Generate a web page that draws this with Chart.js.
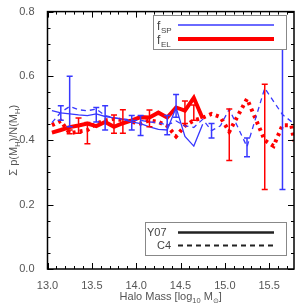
<!DOCTYPE html>
<html>
<head>
<meta charset="utf-8">
<script src="https://cdn.jsdelivr.net/npm/chart.js@4.4.1/dist/chart.umd.min.js"></script>
<style>
  body { margin: 0; background: #fff; }
  #wrap { width: 306px; height: 306px; }
</style>
</head>
<body>
<div id="wrap"><canvas id="grafico"></canvas></div>
<script>
// Y07 bins (log10 halo mass) and fractions
const massY07 = [13.05, 13.15, 13.25, 13.35, 13.45, 13.55, 13.65, 13.75, 13.85, 13.95,
                 14.05, 14.15, 14.25, 14.35, 14.45, 14.55, 14.65, 14.75];
const spY07 = [0.492, 0.485, 0.482, 0.479, 0.477, 0.482, 0.474, 0.470, 0.465, 0.457,
               0.452, 0.442, 0.434, 0.432, 0.502, 0.412, 0.382, 0.450];
const elY07 = [0.424, 0.432, 0.441, 0.446, 0.452, 0.444, 0.457, 0.442, 0.453, 0.462,
               0.472, 0.471, 0.486, 0.471, 0.502, 0.492, 0.532, 0.468];

// C4 curves
const massSpC4 = [13.05, 13.15, 13.25, 13.35, 13.45, 13.55, 13.65, 13.75, 13.85, 13.95,
                  14.05, 14.15, 14.25, 14.35, 14.45, 14.55, 14.65, 14.75, 14.85, 14.95,
                  15.05, 15.25, 15.45, 15.65, 15.78];
const spC4 = [0.455, 0.487, 0.505, 0.495, 0.492, 0.497, 0.477, 0.470, 0.467, 0.462,
              0.462, 0.457, 0.455, 0.447, 0.460, 0.445, 0.440, 0.465, 0.430, 0.445,
              0.497, 0.380, 0.562, 0.480, 0.452];
const massElC4 = [13.05, 13.15, 13.25, 13.35, 13.45, 13.55, 13.65, 13.75, 13.85, 13.95,
                  14.05, 14.15, 14.25, 14.35, 14.45, 14.55, 14.65, 14.75, 14.85, 14.95,
                  15.05, 15.25, 15.45, 15.55, 15.65, 15.75, 15.78];
const elC4 = [0.447, 0.460, 0.422, 0.427, 0.432, 0.452, 0.462, 0.467, 0.462, 0.457,
              0.452, 0.462, 0.457, 0.445, 0.412, 0.445, 0.462, 0.470, 0.482, 0.472,
              0.427, 0.529, 0.400, 0.382, 0.447, 0.447, 0.397];

// error bars
const errSpMass = [13.15, 13.25, 13.55, 13.65, 13.95, 14.05, 14.35, 14.45, 14.85, 15.25, 15.65];
const errSpLo   = [0.462, 0.442, 0.457, 0.432, 0.432, 0.415, 0.417, 0.472, 0.407, 0.349, 0.247];
const errSpHi   = [0.507, 0.599, 0.502, 0.507, 0.477, 0.477, 0.477, 0.542, 0.452, 0.407, 0.720];
const errElMass = [13.25, 13.35, 13.45, 13.75, 13.85, 14.15, 14.55, 14.65, 15.05, 15.45];
const errElLo   = [0.420, 0.422, 0.389, 0.422, 0.422, 0.442, 0.452, 0.462, 0.337, 0.247];
const errElHi   = [0.432, 0.469, 0.455, 0.479, 0.495, 0.494, 0.522, 0.510, 0.497, 0.574];

const xTickValues = [13.0, 13.5, 14.0, 14.5, 15.0, 15.5];
const yTickValues = [0.0, 0.2, 0.4, 0.6, 0.8];

const AZUL = '#3838ff';
const VERMELHO = '#ff0000';
const FONTE = '"Liberation Sans", Arial, sans-serif';

const pares = (xs, ys) => xs.map((x, i) => ({ x: x, y: ys[i] }));
const barras = (xs, lo, hi) => xs.flatMap((x, i) => [{ x: x, y: lo[i] }, { x: x, y: hi[i] }, { x: x, y: null }]);

function linha(data, cor, largura, dash) {
  return { data: data, borderColor: cor, borderWidth: largura, borderDash: dash || [],
           pointRadius: 0, fill: false, tension: 0 };
}
function erros(data, cor) {
  return { data: data, borderColor: cor, borderWidth: 1.5, spanGaps: false, fill: false,
           pointStyle: 'line', pointRadius: 3, pointBorderColor: cor, pointBorderWidth: 1.5,
           pointBackgroundColor: cor };
}

// draws text with subscripts, parts = [[text, isSub], ...]
function textoRico(ctx, partes, x, y, tam) {
  const sub = tam * 0.68;
  let total = 0;
  partes.forEach(p => {
    ctx.font = (p[1] ? sub : tam) + 'px ' + FONTE;
    total += ctx.measureText(p[0]).width;
  });
  let cx = x - total / 2;
  ctx.textAlign = 'left';
  ctx.textBaseline = 'alphabetic';
  partes.forEach(p => {
    ctx.font = (p[1] ? sub : tam) + 'px ' + FONTE;
    ctx.fillText(p[0], cx, p[1] ? y + tam * 0.3 : y);
    cx += ctx.measureText(p[0]).width;
  });
}

const moldura = {
  id: 'moldura',
  afterDraw(chart) {
    const ctx = chart.ctx;
    const a = chart.chartArea;
    const sx = chart.scales.x, sy = chart.scales.y;
    ctx.save();
    ctx.strokeStyle = '#000';
    ctx.lineWidth = 1.5;
    ctx.strokeRect(a.left, a.top, a.right - a.left, a.bottom - a.top);

    // inward ticks on all four sides
    ctx.lineWidth = 1;
    ctx.beginPath();
    for (let i = 0; i <= 28; i++) {
      const v = 13 + i * 0.1;
      if (v > sx.max) break;
      const px = Math.round(sx.getPixelForValue(v)) + 0.5;
      const len = (i % 5 === 0) ? 6 : 3;
      ctx.moveTo(px, a.bottom); ctx.lineTo(px, a.bottom - len);
      ctx.moveTo(px, a.top); ctx.lineTo(px, a.top + len);
    }
    for (let i = 0; i <= 16; i++) {
      const py = Math.round(sy.getPixelForValue(i * 0.05)) + 0.5;
      const len = (i % 4 === 0) ? 6 : 3;
      ctx.moveTo(a.left, py); ctx.lineTo(a.left + len, py);
      ctx.moveTo(a.right, py); ctx.lineTo(a.right - len, py);
    }
    ctx.stroke();

    // axis titles
    ctx.fillStyle = '#555';
    textoRico(ctx, [['Halo Mass [log', false], ['10', true], [' M', false], ['\u2299', true], [']', false]],
              (a.left + a.right) / 2, 300, 11);
    ctx.save();
    ctx.translate(17, (a.top + a.bottom) / 2);
    ctx.rotate(-Math.PI / 2);
    textoRico(ctx, [['\u03A3 p(M', false], ['H', true], [')/N(M', false], ['H', true], [')', false]], 0, 0, 11);
    ctx.restore();

    // legend: fractions
    ctx.fillStyle = '#fff';
    ctx.strokeStyle = '#888';
    ctx.lineWidth = 1;
    ctx.fillRect(153.5, 15.5, 133, 34);
    ctx.strokeRect(153.5, 15.5, 133, 34);
    ctx.fillStyle = '#444';
    ctx.font = '12px ' + FONTE;
    ctx.textAlign = 'left';
    ctx.fillText('f', 157, 30);
    ctx.fillText('f', 157, 44);
    ctx.font = '8px ' + FONTE;
    ctx.fillText('SP', 161, 33);
    ctx.fillText('EL', 161, 47);
    ctx.lineCap = 'butt';
    ctx.strokeStyle = AZUL; ctx.lineWidth = 1.5;
    ctx.beginPath(); ctx.moveTo(178, 25); ctx.lineTo(274, 25); ctx.stroke();
    ctx.strokeStyle = VERMELHO; ctx.lineWidth = 4;
    ctx.beginPath(); ctx.moveTo(178, 39); ctx.lineTo(274, 39); ctx.stroke();

    // legend: catalogues
    ctx.fillStyle = '#fff';
    ctx.strokeStyle = '#888';
    ctx.lineWidth = 1;
    ctx.fillRect(145.5, 222.5, 141, 33);
    ctx.strokeRect(145.5, 222.5, 141, 33);
    ctx.fillStyle = '#444';
    ctx.font = '11px ' + FONTE;
    ctx.textBaseline = 'middle';
    ctx.fillText('Y07', 147, 233);
    ctx.fillText('C4', 157, 246);
    ctx.strokeStyle = '#222';
    ctx.lineWidth = 2.5;
    ctx.beginPath(); ctx.moveTo(178, 232.5); ctx.lineTo(274, 232.5); ctx.stroke();
    ctx.lineWidth = 2;
    ctx.setLineDash([5, 4]);
    ctx.beginPath(); ctx.moveTo(178, 245.5); ctx.lineTo(274, 245.5); ctx.stroke();
    ctx.restore();
  }
};

new Chart(document.getElementById('grafico'), {
  type: 'line',
  data: {
    datasets: [
      erros(barras(errSpMass, errSpLo, errSpHi), AZUL),
      erros(barras(errElMass, errElLo, errElHi), VERMELHO),
      linha(pares(massSpC4, spC4), AZUL, 1.3, [5, 4]),
      linha(pares(massY07, spY07), AZUL, 1.3),
      linha(pares(massElC4, elC4), VERMELHO, 4, [3, 4]),
      linha(pares(massY07, elY07), VERMELHO, 4)
    ]
  },
  options: {
    responsive: true,
    maintainAspectRatio: false,
    devicePixelRatio: 1,
    animation: false,
    layout: { padding: { top: 2, right: 12, left: 0, bottom: 0 } },
    plugins: { legend: { display: false }, tooltip: { enabled: false } },
    scales: {
      x: {
        type: 'linear', min: 13, max: 15.78,
        grid: { display: false }, border: { display: false },
        afterBuildTicks: s => { s.ticks = xTickValues.map(v => ({ value: v })); },
        afterFit: s => { s.height = 37; },
        ticks: { color: '#555', padding: 2, maxRotation: 0, font: { family: FONTE, size: 11 },
                 callback: v => Number(v).toFixed(1) }
      },
      y: {
        type: 'linear', min: 0, max: 0.8,
        grid: { display: false }, border: { display: false },
        afterBuildTicks: s => { s.ticks = yTickValues.map(v => ({ value: v })); },
        afterFit: s => { s.width = 47.5; },
        ticks: { color: '#555', padding: 5, font: { family: FONTE, size: 11 },
                 callback: v => Number(v).toFixed(1) }
      }
    }
  },
  plugins: [moldura]
});
</script>
</body>
</html>
